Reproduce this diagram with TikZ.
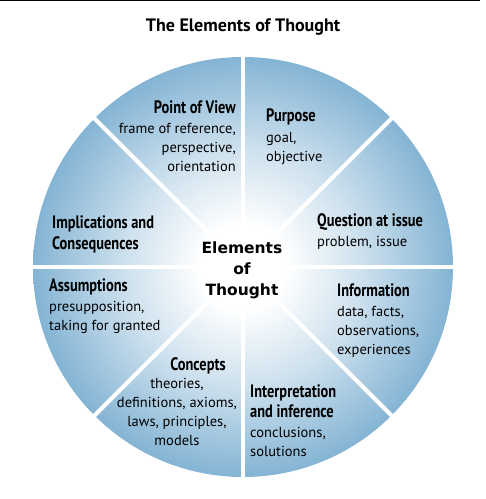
\documentclass[tikz,border=0pt]{standalone}
\usepackage{fontspec}
\setmainfont{PT Sans}
\newfontfamily\headfont{PT Sans}[FakeStretch=0.8]
\newfontfamily\centerfont{DejaVu Sans}
\definecolor{edgeblue}{RGB}{132,180,212}
\colorlet{midblue}{edgeblue!40}
\pgfdeclareradialshading{wheel}{\pgfpoint{0bp}{0bp}}{color(0bp)=(white); color(5bp)=(white); color(14bp)=(midblue); color(25bp)=(edgeblue); color(50bp)=(edgeblue)}
\newcommand\hd[1]{{\fontsize{18}{20}\headfont\bfseries #1}}
\begin{document}
\begin{tikzpicture}[x=1pt,y=-1pt,
  body/.style={inner sep=0, font=\fontsize{14.5}{19}\selectfont},
  titletxt/.style={inner sep=0, font=\fontsize{18}{20}\selectfont\bfseries},
  centertxt/.style={inner sep=0, align=center, font=\fontsize{15.5}{21}\centerfont\bfseries},
  divider/.style={white, line width=4pt},
  topline/.style={black, line width=1.2pt}]
\useasboundingbox (0,0) rectangle (486,499);
\coordinate (tl) at (0,0.6);
\coordinate (tr) at (480,0.6);
\draw[topline] (tl) -- (tr);
\node[titletxt, anchor=north] (title) at (243,19) {The Elements of Thought};
\coordinate (c) at (243,267);
\shade[shading=wheel] (c) circle (210);
\foreach \a in {0,45,...,315} \draw[divider] (c) -- ++(\a:213);
\node[body, align=right, anchor=north east] (pov) at (236,100)
  {\hd{Point of View}\\[1.5pt] frame of reference,\\ perspective,\\ orientation};
\node[body, align=left, anchor=north west] (pur) at (266,109)
  {\hd{Purpose}\\[1.5pt] goal,\\ objective};
\node[body, align=left, anchor=north west] (que) at (317,213)
  {\hd{Question at issue}\\[1.5pt] problem, issue};
\node[body, align=left, anchor=north west] (inf) at (337,283)
  {\hd{Information}\\[1.5pt] data, facts,\\ observations,\\ experiences};
\node[body, align=left, anchor=north west] (int) at (250,384)
  {\hd{Interpretation}\\[1pt] \hd{and inference}\\[1.5pt] conclusions,\\ solutions};
\node[body, anchor=north] (conh) at (198,357) {\hd{Concepts}};
\node[body, align=center, anchor=north] (conb) at (177,378)
  {theories,\\ definitions, axioms,\\ laws, principles,\\ models};
\node[body, align=left, anchor=north west] (imp) at (52,215)
  {\hd{Implications and}\\[2pt] \hd{Consequences}};
\node[body, align=left, anchor=north west] (ass) at (49,278)
  {\hd{Assumptions}\\[1.5pt] presupposition,\\ taking for granted};
\node[centertxt, anchor=north] (ctr) at (242,242) {Elements\\ of\\ Thought};
\end{tikzpicture}
\end{document}
